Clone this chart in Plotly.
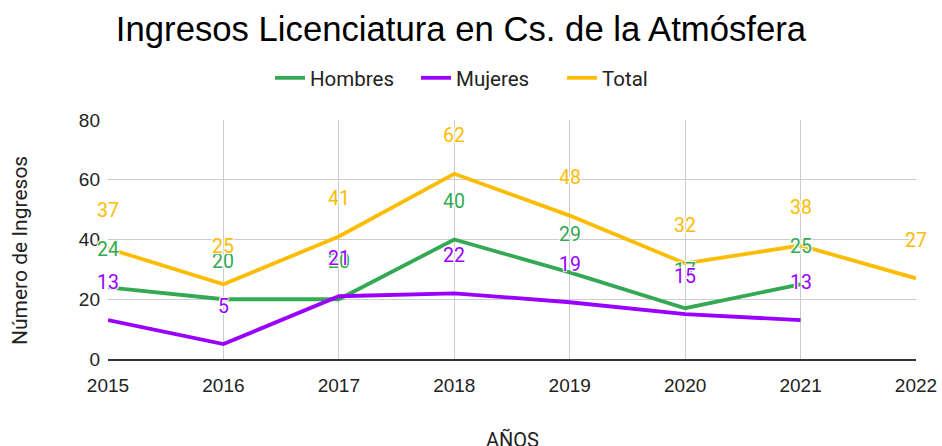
import plotly.graph_objects as go

# Datos
years = [2015, 2016, 2017, 2018, 2019, 2020, 2021, 2022]
hombres = [24, 20, 20, 40, 29, 17, 25, None]
mujeres = [13, 5, 21, 22, 19, 15, 13, None]
total = [37, 25, 41, 62, 48, 32, 38, 27]

series = [
    ("Hombres", hombres, "#34a853"),
    ("Mujeres", mujeres, "#9900ff"),
    ("Total", total, "#fbbc04"),
]

halo = "1px 1px 1px white, -1px -1px 1px white, 1px -1px 1px white, -1px 1px 1px white"

fig = go.Figure()
annotations = []
for name, values, color in series:
    fig.add_trace(go.Scatter(
        x=years, y=values, name=name, mode="lines",
        line=dict(color=color, width=3.8),
        connectgaps=False,
    ))
    # etiquetas de datos, desplazadas por encima del punto
    for x, v in zip(years, values):
        if v is None:
            continue
        annotations.append(dict(
            x=x, y=v, text=str(v), showarrow=False, yshift=38,
            font=dict(family="Roboto", size=19.5, color=color, shadow=halo),
        ))

# titulos de ejes como anotaciones
annotations.append(dict(
    text="Número de Ingresos", textangle=-90, showarrow=False,
    xref="paper", yref="paper", x=(20 - 108) / 808, y=(359 - 251) / 239,
    xanchor="center", yanchor="middle",
    font=dict(family="Roboto", size=21, color="#222222"),
))
annotations.append(dict(
    text="AÑOS", showarrow=False,
    xref="paper", yref="paper", x=(512 - 108) / 808, y=(359 - 440) / 239,
    xanchor="center", yanchor="middle",
    font=dict(family="Roboto", size=20, color="#222222"),
))

fig.update_layout(
    width=942, height=446,
    margin=dict(l=108, r=26, t=120, b=87, autoexpand=False),
    paper_bgcolor="white", plot_bgcolor="white",
    title=dict(
        text="Ingresos Licenciatura en Cs. de la Atmósfera",
        font=dict(family="Liberation Sans", size=34.7, color="#000000"),
        x=461 / 942, xref="container", xanchor="center",
        y=1 - 29 / 446, yref="container", yanchor="middle",
    ),
    legend=dict(
        orientation="h", x=(270 - 108) / 808, xanchor="left",
        y=(359 - 78) / 239, yanchor="middle",
        font=dict(family="Roboto", size=20.5, color="#222222"),
        itemwidth=30, entrywidth=101, entrywidthmode="pixels",
    ),
    annotations=annotations,
    showlegend=True,
)

fig.update_xaxes(
    range=[2015, 2022], tickvals=years, ticktext=[str(y) for y in years],
    showgrid=True, gridcolor="#cccccc", gridwidth=1,
    showline=True, linecolor="#333333", linewidth=1.5,
    mirror=False, zeroline=False, ticks="", ticklabelstandoff=8,
    automargin=False,
    tickfont=dict(family="Liberation Sans", size=19, color="#222222"),
)
fig.update_yaxes(
    range=[0, 80], tickvals=[0, 20, 40, 60, 80],
    showgrid=True, gridcolor="#cccccc", gridwidth=1,
    zeroline=False, showline=False, ticks="", ticklabelstandoff=7,
    automargin=False,
    tickfont=dict(family="Liberation Sans", size=19, color="#222222"),
)

fig.write_html("out.html", config={"displayModeBar": False},
               post_script="document.body.style.margin='0';")
